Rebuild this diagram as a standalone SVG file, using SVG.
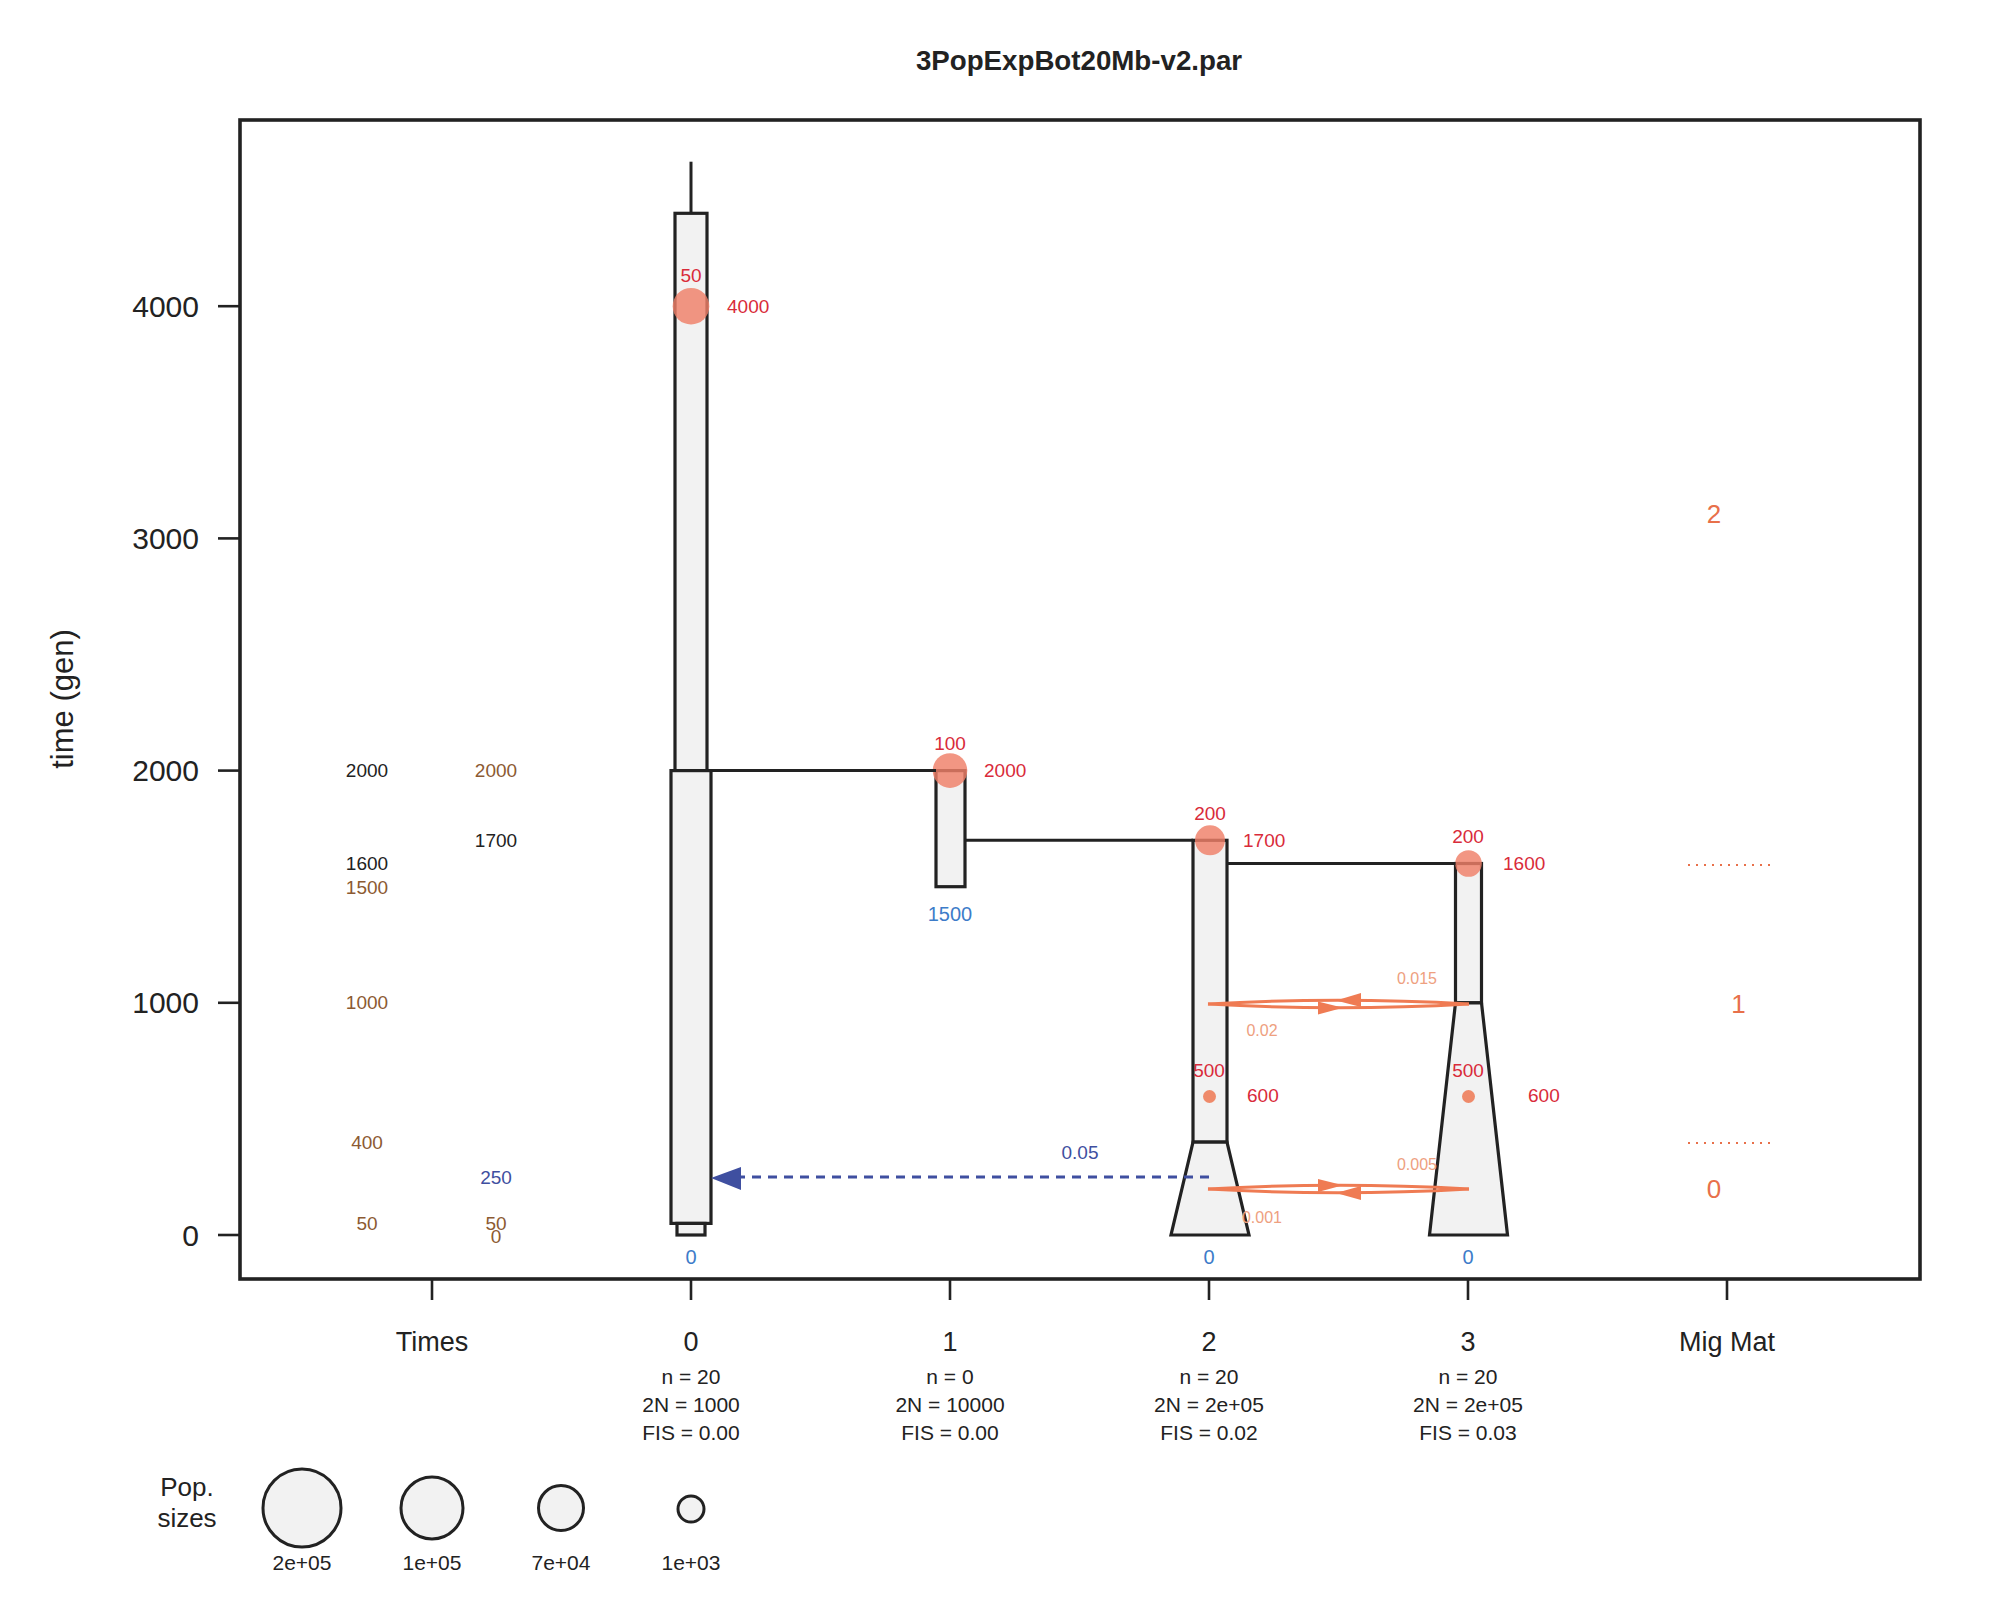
<svg xmlns="http://www.w3.org/2000/svg" width="2000" height="1600" viewBox="0 0 2000 1600">
<defs>
<style>
text{font-family:"Liberation Sans",Arial,sans-serif;}
.pop{fill:#f2f2f2;stroke:#222;stroke-width:3.2;stroke-linejoin:miter;}
.ln{stroke:#222;stroke-width:3;fill:none;}
.ax{stroke:#222;stroke-width:2.6;fill:none;}
.ytl{font-size:30px;fill:#222;text-anchor:end;dominant-baseline:central;}
.xtl{font-size:27px;fill:#222;text-anchor:middle;dominant-baseline:central;}
.info{font-size:21px;fill:#222;text-anchor:middle;dominant-baseline:central;}
.red{font-size:19px;fill:#d92b3a;dominant-baseline:central;}
.mid{text-anchor:middle;}
.blu{font-size:20px;fill:#3d7cc9;text-anchor:middle;dominant-baseline:central;}
.tm{font-size:19px;text-anchor:middle;dominant-baseline:central;}
.brn{fill:#8c5a32;}
.blk{fill:#222;}
.dblu{fill:#3f4fa0;}
.big{fill:#ef7f68;fill-opacity:0.82;}
.sm{fill:#ef8a6a;}
.mig{stroke:#ef7b53;stroke-width:3;fill:none;}
.migh{fill:#ef7b53;}
.mr{font-size:16px;fill:#eea080;dominant-baseline:central;}
.mm{font-size:26px;fill:#e8704a;text-anchor:middle;dominant-baseline:central;}
.dot{stroke:#e8704a;stroke-width:2;stroke-dasharray:2 6;fill:none;}
.leg{fill:#f2f2f2;stroke:#222;stroke-width:3;}
.legt{font-size:21px;fill:#222;text-anchor:middle;dominant-baseline:central;}
</style>
</defs>
<rect width="2000" height="1600" fill="#ffffff"/>
<text x="1079" y="60" font-size="27.7" font-weight="bold" fill="#222" text-anchor="middle" dominant-baseline="central">3PopExpBot20Mb-v2.par</text>
<g id="axes">
<rect x="240" y="120" width="1680" height="1159" fill="none" stroke="#222" stroke-width="3.6"/>
<line class="ax" x1="218" y1="306.2" x2="240" y2="306.2"/>
<line class="ax" x1="218" y1="538.4" x2="240" y2="538.4"/>
<line class="ax" x1="218" y1="770.6" x2="240" y2="770.6"/>
<line class="ax" x1="218" y1="1002.8" x2="240" y2="1002.8"/>
<line class="ax" x1="218" y1="1235" x2="240" y2="1235"/>
<text class="ytl" x="199" y="306.2">4000</text>
<text class="ytl" x="199" y="538.4">3000</text>
<text class="ytl" x="199" y="770.6">2000</text>
<text class="ytl" x="199" y="1002.8">1000</text>
<text class="ytl" x="199" y="1235">0</text>
<text x="62" y="699" font-size="31" fill="#222" text-anchor="middle" dominant-baseline="central" transform="rotate(-90 62 699)">time (gen)</text>
<line class="ax" x1="432" y1="1279" x2="432" y2="1300"/>
<line class="ax" x1="691" y1="1279" x2="691" y2="1300"/>
<line class="ax" x1="950" y1="1279" x2="950" y2="1300"/>
<line class="ax" x1="1209" y1="1279" x2="1209" y2="1300"/>
<line class="ax" x1="1468" y1="1279" x2="1468" y2="1300"/>
<line class="ax" x1="1727" y1="1279" x2="1727" y2="1300"/>
<text class="xtl" x="432" y="1342">Times</text>
<text class="xtl" x="691" y="1342">0</text>
<text class="xtl" x="950" y="1342">1</text>
<text class="xtl" x="1209" y="1342">2</text>
<text class="xtl" x="1468" y="1342">3</text>
<text class="xtl" x="1727" y="1342">Mig Mat</text>
<text class="info" x="691" y="1376">n = 20</text>
<text class="info" x="691" y="1404">2N = 1000</text>
<text class="info" x="691" y="1432">FIS = 0.00</text>
<text class="info" x="950" y="1376">n = 0</text>
<text class="info" x="950" y="1404">2N = 10000</text>
<text class="info" x="950" y="1432">FIS = 0.00</text>
<text class="info" x="1209" y="1376">n = 20</text>
<text class="info" x="1209" y="1404">2N = 2e+05</text>
<text class="info" x="1209" y="1432">FIS = 0.02</text>
<text class="info" x="1468" y="1376">n = 20</text>
<text class="info" x="1468" y="1404">2N = 2e+05</text>
<text class="info" x="1468" y="1432">FIS = 0.03</text>
</g>
<g id="times">
<text class="tm blk" x="367" y="770.6">2000</text>
<text class="tm blk" x="367" y="863.5">1600</text>
<text class="tm brn" x="367" y="887">1500</text>
<text class="tm brn" x="367" y="1002.8">1000</text>
<text class="tm brn" x="367" y="1142.1">400</text>
<text class="tm brn" x="367" y="1223.4">50</text>
<text class="tm brn" x="496" y="770.6">2000</text>
<text class="tm blk" x="496" y="840.3">1700</text>
<text class="tm dblu" x="496" y="1177">250</text>
<text class="tm brn" x="496" y="1223.4">50</text>
<text class="tm brn" x="496" y="1236">0</text>
</g>
<g id="pop0">
<line class="ln" x1="691" y1="161.7" x2="691" y2="213.3"/>
<rect class="pop" x="675" y="213.3" width="32" height="557.3"/>
<rect class="pop" x="671" y="770.6" width="40" height="452.8"/>
<rect class="pop" x="677" y="1223.4" width="28" height="11.6"/>
<circle class="big" cx="691" cy="306.2" r="18.3"/>
<text class="red mid" x="691" y="275">50</text>
<text class="red" x="727" y="306.2">4000</text>
<text class="blu" x="691" y="1257">0</text>
</g>
<g id="pop1">
<rect class="pop" x="936" y="770.6" width="29" height="116.1"/>
<circle class="big" cx="950" cy="770.6" r="17.3"/>
<text class="red mid" x="950" y="743">100</text>
<text class="red" x="984" y="770.6">2000</text>
<text class="blu" x="950" y="914" font-size="21">1500</text>
</g>
<g id="pop2">
<rect class="pop" x="1193" y="840.3" width="34" height="301.8"/>
<polygon class="pop" points="1193,1142.1 1227,1142.1 1249,1235 1171,1235"/>
<circle class="big" cx="1210" cy="840.3" r="15"/>
<text class="red mid" x="1210" y="813">200</text>
<text class="red" x="1243" y="840.3">1700</text>
<circle class="sm" cx="1209.5" cy="1096.5" r="6.5"/>
<text class="red mid" x="1209" y="1070">500</text>
<text class="red" x="1247" y="1095.7">600</text>
<text class="blu" x="1209" y="1257">0</text>
</g>
<g id="pop3">
<rect class="pop" x="1455.5" y="863.5" width="26" height="139.3"/>
<polygon class="pop" points="1455.5,1002.8 1481.5,1002.8 1507.5,1235 1429.5,1235"/>
<circle class="big" cx="1468.5" cy="863.5" r="13.3"/>
<text class="red mid" x="1468" y="836">200</text>
<text class="red" x="1503" y="863.5">1600</text>
<circle class="sm" cx="1468.5" cy="1096.5" r="6.5"/>
<text class="red mid" x="1468" y="1070">500</text>
<text class="red" x="1528" y="1095.7">600</text>
<text class="blu" x="1468" y="1257">0</text>
</g>
<g id="connectors">
<line class="ln" x1="707" y1="770.6" x2="936" y2="770.6"/>
<line class="ln" x1="965" y1="840.3" x2="1193" y2="840.3"/>
<line class="ln" x1="1227" y1="863.5" x2="1455.5" y2="863.5"/>
<line x1="1209" y1="1177" x2="740" y2="1177" stroke="#3f4fa0" stroke-width="3" stroke-dasharray="9 7"/>
<polygon points="711,1178 741,1167 741,1190" fill="#3f4fa0"/>
<text x="1080" y="1152" font-size="19" fill="#3f4fa0" text-anchor="middle" dominant-baseline="central">0.05</text>
<path class="mig" d="M1208,1004 Q1338,996.5 1469,1004"/>
<path class="mig" d="M1208,1004 Q1338,1011.5 1469,1004"/>
<polygon class="migh" points="1336,1000.5 1361,993 1361,1007"/>
<polygon class="migh" points="1343,1007.8 1318,1001.5 1318,1014.5"/>
<text class="mr" x="1417" y="978" text-anchor="middle">0.015</text>
<text class="mr" x="1262" y="1030" text-anchor="middle">0.02</text>
<path class="mig" d="M1208,1189 Q1338,1181.5 1469,1189"/>
<path class="mig" d="M1208,1189 Q1338,1196.5 1469,1189"/>
<polygon class="migh" points="1343,1185.3 1318,1179 1318,1192"/>
<polygon class="migh" points="1336,1193 1361,1186 1361,1200"/>
<text class="mr" x="1417" y="1164" text-anchor="middle">0.005</text>
<text class="mr" x="1262" y="1217" text-anchor="middle">0.001</text>
</g>
<g id="migmat">
<text class="mm" x="1714" y="514">2</text>
<line class="dot" x1="1688" y1="865" x2="1771" y2="865"/>
<text class="mm" x="1738.5" y="1004">1</text>
<line class="dot" x1="1688" y1="1143" x2="1771" y2="1143"/>
<text class="mm" x="1714" y="1189">0</text>
</g>
<g id="legend">
<text x="187" y="1487" font-size="26" fill="#222" text-anchor="middle" dominant-baseline="central">Pop.</text>
<text x="187" y="1518" font-size="26" fill="#222" text-anchor="middle" dominant-baseline="central">sizes</text>
<circle class="leg" cx="302" cy="1508" r="39"/>
<circle class="leg" cx="432" cy="1508" r="31"/>
<circle class="leg" cx="561" cy="1508" r="22.5"/>
<circle class="leg" cx="691" cy="1509" r="13"/>
<text class="legt" x="302" y="1562">2e+05</text>
<text class="legt" x="432" y="1562">1e+05</text>
<text class="legt" x="561" y="1562">7e+04</text>
<text class="legt" x="691" y="1562">1e+03</text>
</g>
</svg>
